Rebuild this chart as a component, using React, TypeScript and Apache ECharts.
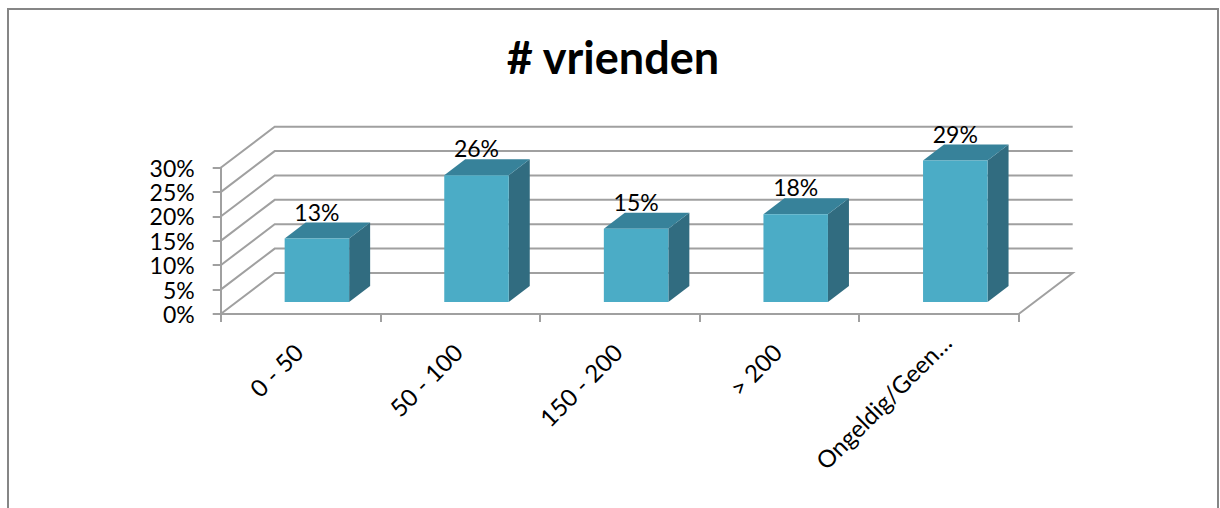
import React, { useEffect, useRef } from "react";
import * as echarts from "echarts";

const titleText = "# vrienden";
const categories = ["0 - 50", "50 - 100", "150 - 200", "> 200", "Ongeldig/Geen…"];
const percentages = [13, 26, 15, 18, 29];
const gridTicks = [0, 5, 10, 15, 20, 25, 30];

const FONT = "Lato, Carlito, 'Open Sans', sans-serif";
const WALL_DX = 54;
const WALL_DY = -41;
const BAR_WIDTH = 64.5;
const BAR_DX = 21;
const BAR_DY = -16;
const BAR_SHIFT_X = 16.4;
const BAR_SHIFT_Y = -12;
const GRID_COLOR = "#a0a0a0";
const LINE_W = 2;

export default function App() {
  const ref = useRef<HTMLDivElement>(null);
  useEffect(() => {
    const chart = echarts.init(ref.current!, undefined, { renderer: "svg" });
    chart.setOption({
      animation: false,
      backgroundColor: "#ffffff",
      title: {
        text: titleText,
        left: 608,
        top: 29,
        textAlign: "center",
        textStyle: { fontFamily: FONT, fontSize: 45, fontWeight: "bold", color: "#000000" },
      },
      graphic: [
        {
          type: "polyline",
          shape: { points: [[8, 510], [8, 9], [1218, 9], [1218, 510]] },
          style: { stroke: "#868686", fill: "none", lineWidth: 2 },
          silent: true,
        },
      ],
      grid: { left: 220.7, right: 1220 - 1018.7, top: 167.7, bottom: 508 - 314 },
      xAxis: {
        type: "category",
        data: categories,
        boundaryGap: true,
        axisLine: { show: true, lineStyle: { color: GRID_COLOR, width: LINE_W } },
        axisTick: { show: true, length: 8, alignWithLabel: false, lineStyle: { color: GRID_COLOR, width: LINE_W } },
        axisLabel: {
          interval: 0,
          rotate: 45,
          margin: 16,
          padding: [22, 0, 0, 0],
          fontFamily: FONT,
          fontSize: 24,
          color: "#000000",
          formatter: (v: string) => (v === categories[4] ? v : `{a|${v}}`),
          rich: { a: { padding: [0, 14, 0, 0], fontFamily: FONT, fontSize: 24, color: "#000000" } },
        },
        splitLine: { show: false },
      },
      yAxis: {
        type: "value",
        min: 0,
        max: 30,
        interval: 5,
        axisLine: { show: true, lineStyle: { color: GRID_COLOR, width: LINE_W } },
        axisTick: { show: true, length: 8, lineStyle: { color: GRID_COLOR, width: LINE_W } },
        axisLabel: {
          formatter: "{value}%",
          margin: 26,
          fontFamily: FONT,
          fontSize: 23,
          lineHeight: 22,
          color: "#000000",
        },
        splitLine: { show: false },
      },
      series: [
        {
          type: "custom",
          coordinateSystem: "cartesian2d",
          z: 1,
          silent: true,
          clip: false,
          encode: { y: 0 },
          data: gridTicks.map((t) => [t]),
          renderItem: (_p: any, api: any) => {
            const v = api.value(0);
            const [x0, y] = api.coord([0, v]);
            const left = x0 - api.size([1, 0])[0] / 2;
            const right = left + api.size([1, 0])[0] * categories.length;
            const points = [
              [left, y],
              [left + WALL_DX, y + WALL_DY],
              [right + WALL_DX, y + WALL_DY],
            ];
            if (v === 0) points.push([right, y]);
            return {
              type: "polyline",
              shape: { points },
              style: { stroke: GRID_COLOR, fill: "none", lineWidth: LINE_W },
            };
          },
        },
        {
          type: "custom",
          coordinateSystem: "cartesian2d",
          z: 2,
          silent: true,
          clip: false,
          encode: { x: 0, y: 1 },
          data: percentages.map((p, i) => [i, p]),
          renderItem: (_p: any, api: any) => {
            const [cx, yTop] = api.coord([api.value(0), api.value(1)]);
            const [, yBase] = api.coord([api.value(0), 0]);
            const l = cx + BAR_SHIFT_X - BAR_WIDTH / 2;
            const r = l + BAR_WIDTH;
            const t = yTop + BAR_SHIFT_Y;
            const b = yBase + BAR_SHIFT_Y;
            return {
              type: "group",
              children: [
                {
                  type: "polygon",
                  shape: { points: [[r, t], [r + BAR_DX, t + BAR_DY], [r + BAR_DX, b + BAR_DY], [r, b]] },
                  style: { fill: "#316c80" },
                },
                {
                  type: "polygon",
                  shape: { points: [[l, t], [l + BAR_DX, t + BAR_DY], [r + BAR_DX, t + BAR_DY], [r, t]] },
                  style: { fill: "#37829a" },
                },
                {
                  type: "rect",
                  shape: { x: l, y: t, width: BAR_WIDTH, height: b - t },
                  style: { fill: "#4bacc6" },
                },
                {
                  type: "text",
                  x: l + BAR_WIDTH / 2,
                  y: t - 27,
                  style: {
                    text: `${api.value(1)}%`,
                    fill: "#000000",
                    font: `23px ${FONT}`,
                    textAlign: "center",
                    textVerticalAlign: "middle",
                  },
                },
              ],
            };
          },
        },
      ],
    });
    return () => chart.dispose();
  }, []);
  return <div ref={ref} style={{ position: "absolute", left: 0, top: 0, width: 1220, height: 508 }} />;
}
